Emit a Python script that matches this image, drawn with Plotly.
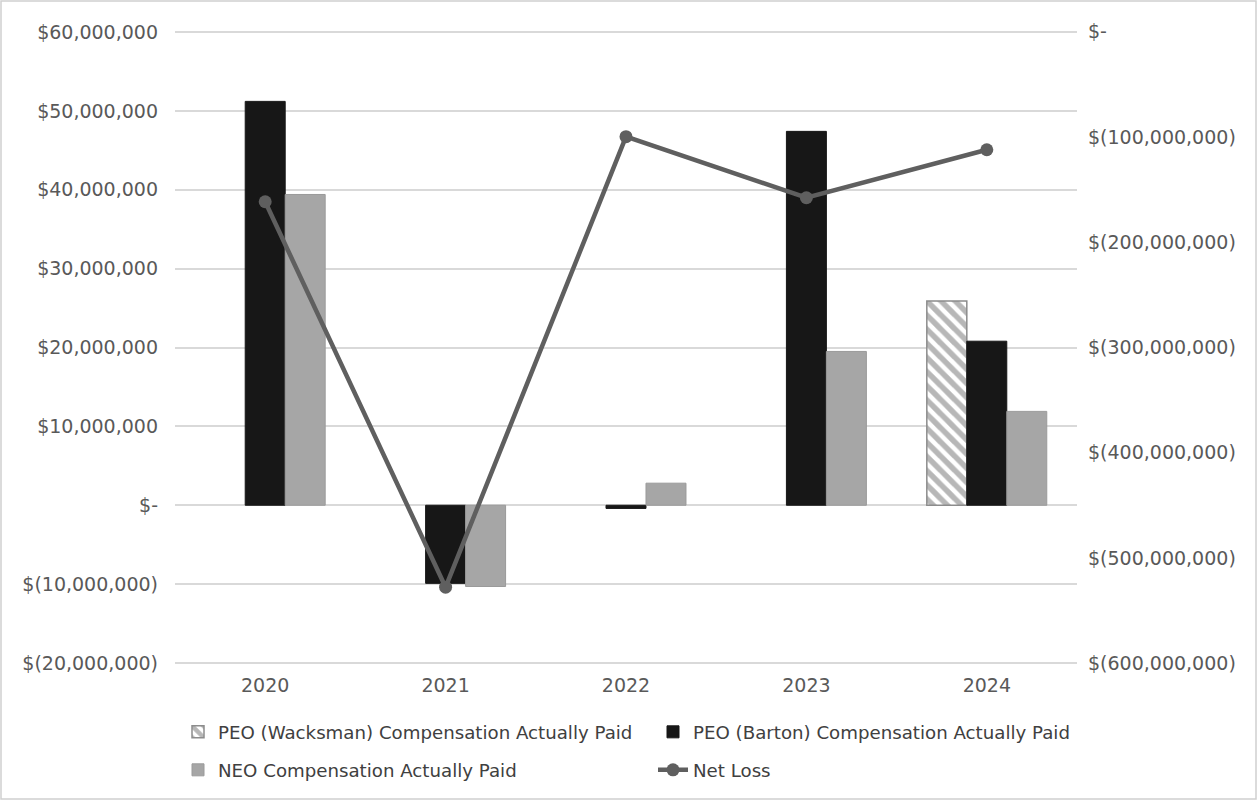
import plotly.graph_objects as go

years = ["2020", "2021", "2022", "2023", "2024"]
wacksman_cap = [None, None, None, None, 25.9e6]
barton_cap = [51.2e6, -9.9e6, -0.4e6, 47.4e6, 20.8e6]
neo_cap = [39.4e6, -10.3e6, 2.8e6, 19.5e6, 11.9e6]
net_loss = [-161.6e6, -527.6e6, -99.8e6, -157.8e6, -112.2e6]

left_tickvals = [60e6, 50e6, 40e6, 30e6, 20e6, 10e6, 0, -10e6, -20e6]
left_ticktext = ["$60,000,000", "$50,000,000", "$40,000,000", "$30,000,000",
                 "$20,000,000", "$10,000,000", "$-", "$(10,000,000)", "$(20,000,000)"]
right_tickvals = [0, -100e6, -200e6, -300e6, -400e6, -500e6, -600e6]
right_ticktext = ["$-", "$(100,000,000)", "$(200,000,000)", "$(300,000,000)",
                  "$(400,000,000)", "$(500,000,000)", "$(600,000,000)"]

FONT = "DejaVu Sans"
TXT = "#595959"
LEG = "#404040"

fig = go.Figure()
fig.add_trace(go.Bar(
    x=years, y=wacksman_cap, name="PEO (Wacksman) Compensation Actually Paid",
    legend="legend",
    marker=dict(color="white", line=dict(color="#8c8c8c", width=1.5),
                pattern=dict(shape="\\", fgcolor="#6f6f6f", bgcolor="white", size=10, solidity=0.55)),
))
fig.add_trace(go.Bar(
    x=years, y=barton_cap, name="PEO (Barton) Compensation Actually Paid",
    legend="legend2",
    marker=dict(color="#171717", line=dict(color="#171717", width=1)),
))
fig.add_trace(go.Bar(
    x=years, y=neo_cap, name="NEO Compensation Actually Paid",
    legend="legend3",
    marker=dict(color="#a6a6a6", line=dict(color="#9a9a9a", width=1)),
))
fig.add_trace(go.Scatter(
    x=years, y=net_loss, name="Net Loss", yaxis="y2", mode="lines+markers",
    legend="legend4",
    line=dict(color="#5f5f5f", width=4.5),
    marker=dict(color="#5f5f5f", size=13, symbol="circle"),
))

W, H = 1258, 800
ML, MR, MT, MB = 175, 181, 30, 135
pw = W - ML - MR
ph = H - MT - MB

leg_common = dict(orientation="h", xanchor="left", yanchor="middle",
                  xref="container", yref="container",
                  font=dict(family=FONT, size=18.2, color=LEG), bgcolor="rgba(0,0,0,0)")
COL1, COL2 = 178 / W, 653 / W
ROW1, ROW2 = 1 - 732 / H, 1 - 770 / H

fig.update_layout(
    width=W, height=H,
    margin=dict(l=ML, r=MR, t=MT, b=MB, autoexpand=False),
    paper_bgcolor="white", plot_bgcolor="white",
    font=dict(family=FONT, size=19, color=TXT),
    barmode="group", bargap=0.335, bargroupgap=0,
    showlegend=True,
    legend=dict(x=COL1, y=ROW1, **leg_common),
    legend2=dict(x=COL2, y=ROW1, **leg_common),
    legend3=dict(x=COL1, y=ROW2, **leg_common),
    legend4=dict(x=COL2, y=ROW2, **leg_common),
    xaxis=dict(showgrid=False, showline=False, ticks="", tickfont=dict(size=19, color=TXT),
               ticklabelstandoff=7),
    yaxis=dict(range=[-20.25e6, 60.25e6], tickvals=left_tickvals, ticktext=left_ticktext,
               showgrid=True, gridcolor="#d9d9d9", gridwidth=1.5, zeroline=True,
               zerolinecolor="#d9d9d9", zerolinewidth=1.5, showline=False, ticks="",
               ticklabelstandoff=16, tickfont=dict(size=19, color=TXT)),
    yaxis2=dict(range=[-601.5e6, 1.5e6], tickvals=right_tickvals, ticktext=right_ticktext,
                overlaying="y", side="right", showgrid=False, zeroline=False,
                showline=False, ticks="", ticklabelstandoff=10,
                tickfont=dict(size=19, color=TXT)),
    shapes=[dict(type="rect", xref="paper", yref="paper",
                 x0=-(ML - 1) / pw, x1=(W - ML - 2) / pw,
                 y0=-(MB - 1) / ph, y1=(H - MB - 1) / ph,
                 line=dict(color="#d0d0d0", width=1.5), fillcolor="rgba(0,0,0,0)", layer="below")],
)

fig.write_html("out.html", config={"displayModeBar": False},
               post_script="document.body.style.margin='0';document.body.style.overflow='hidden';")
